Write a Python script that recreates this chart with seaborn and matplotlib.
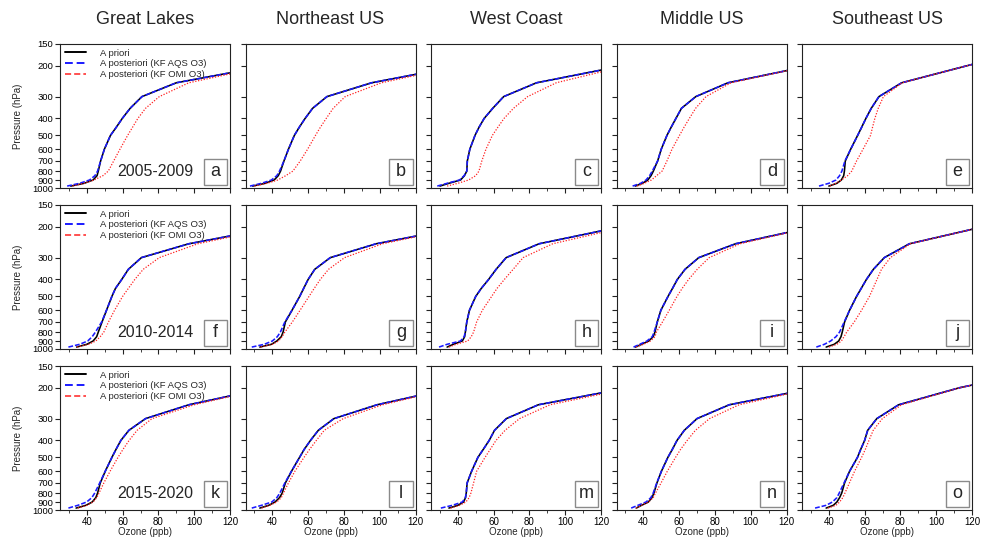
import matplotlib
matplotlib.use("Agg")
import numpy as np
import pandas as pd
import matplotlib.pyplot as plt
import seaborn as sns
from matplotlib.lines import Line2D
from matplotlib.patches import Rectangle
from matplotlib.ticker import FixedLocator, NullLocator, MultipleLocator, NullFormatter, FixedFormatter

# ---------------- data ----------------
regions = ["Great Lakes", "Northeast US", "West Coast", "Middle US", "Southeast US"]
periods = ["2005-2009", "2010-2014", "2015-2020"]
panel_letters = ["a", "b", "c", "d", "e", "f", "g", "h", "i", "j", "k", "l", "m", "n", "o"]
series_names = ["A priori", "A posteriori (KF AQS O3)", "A posteriori (KF OMI O3)"]
pressure_levels = [975, 940, 900, 850, 800, 700, 600, 500, 450, 400, 350, 300, 250, 200, 150]
pressure_ticks = [150, 200, 300, 400, 500, 600, 700, 800, 900, 1000]
ozone_ticks = [40, 60, 80, 100, 120]

# 2005-2009
apriori_a = [31, 38.5, 43.5, 45.7, 46.4, 47.7, 49.8, 53.2, 56.4, 59.8, 64.2, 70.8, 90, 141, 190]
aqs_a     = [29, 36, 41.5, 44.5, 46, 47.7, 49.8, 53.2, 56.4, 59.8, 64.2, 70.8, 90, 141, 190]
omi_a     = [32, 38.5, 44, 49, 52, 55, 58.5, 62.8, 65.5, 68.5, 72.8, 80.5, 97, 141, 190]
apriori_b = [29, 36, 41, 43.3, 44.6, 46.5, 49, 52.3, 55, 58.3, 62.5, 70.5, 95.5, 145, 195]
aqs_b     = [27.5, 34, 39.5, 42.5, 44, 46.5, 49, 52.3, 55, 58.3, 62.5, 70.5, 95.5, 145, 195]
omi_b     = [30, 37, 43, 47.5, 51.5, 55.6, 59.7, 64.1, 66.8, 70.1, 74, 80.7, 101, 145, 195]
apriori_c = [30, 35, 41.5, 43.7, 45, 45.3, 46.7, 49.6, 51.8, 54.7, 59.5, 65.6, 84, 132, 180]
aqs_c     = [28.5, 34, 41, 43.5, 45, 45.3, 46.7, 49.6, 51.8, 54.7, 59.5, 65.6, 84, 132, 180]
omi_c     = [34, 40, 46, 50, 51.8, 53.4, 55.7, 59.3, 62.3, 65.8, 71.1, 79, 95, 134, 180]
apriori_d = [35.5, 39.5, 42.5, 44.3, 45.6, 48, 50, 53.2, 55.5, 58.2, 61.3, 69.3, 87.3, 133, 180]
aqs_d     = [34, 38.5, 41.5, 43.5, 45, 48, 50, 53.2, 55.5, 58.2, 61.3, 69.3, 87.3, 133, 180]
omi_d     = [36.5, 40.5, 44.5, 47.4, 50.5, 53.2, 56, 60.2, 62.7, 65.7, 69.2, 75, 89, 133, 180]
apriori_e = [40, 44.5, 47, 48.3, 48.7, 49.2, 52.2, 56.1, 58.3, 60.7, 63.7, 68, 80.7, 117, 165]
aqs_e     = [34.5, 40, 44, 46, 47.3, 49, 52.2, 56.1, 58.3, 60.7, 63.7, 68, 80.7, 117, 165]
omi_e     = [40.5, 44, 47, 50.5, 52.8, 55.5, 59.1, 63.3, 64.4, 65.7, 67.6, 70.5, 81, 117, 165]
# 2010-2014
apriori_f = [34.3, 40, 43.5, 45.5, 46.4, 48.5, 51, 54, 56, 59.5, 63.2, 70.5, 97, 147, 195]
aqs_f     = [29.7, 36, 40.5, 43, 44.8, 48.3, 51, 54, 56, 59.5, 63.2, 70.5, 97, 147, 195]
omi_f     = [34.5, 41, 45, 47.5, 49.5, 52.1, 55.5, 60, 63.2, 66.8, 71.5, 80.5, 102, 147, 195]
apriori_g = [33, 39.5, 42.5, 45, 46, 47.3, 51, 55.3, 57.5, 60, 63.7, 72.4, 98, 147, 195]
aqs_g     = [28.5, 35.5, 40, 42.8, 44.5, 47, 51, 55.3, 57.5, 60, 63.7, 72.4, 98, 147, 195]
omi_g     = [33.5, 40, 43.5, 45.5, 47, 51.2, 55.5, 60.5, 63.4, 66.8, 71.4, 80.4, 101.5, 147, 195]
apriori_h = [34, 37.5, 42.5, 43.8, 44.2, 45, 46.5, 50, 53.1, 57.2, 61.4, 67, 85.4, 131, 180]
aqs_h     = [29.5, 34, 41.5, 43.5, 44.2, 45, 46.5, 50, 53.1, 57.2, 61.4, 67, 85.4, 131, 180]
omi_h     = [35, 39, 45.5, 47.5, 48.8, 50.5, 53.7, 58.9, 61.9, 66, 70.9, 76.5, 93, 134, 180]
apriori_i = [35.5, 39, 43, 45.5, 46.5, 47.8, 49.8, 53.8, 56.3, 59, 63.3, 71, 91.5, 135, 180]
aqs_i     = [34.5, 38, 42, 45, 46, 47.8, 49.8, 53.8, 56.3, 59, 63.3, 71, 91.5, 135, 180]
omi_i     = [36, 40, 44, 46.5, 47.3, 50.7, 54.5, 58.8, 61.7, 65.3, 70.1, 76.8, 94, 135, 180]
apriori_j = [38.5, 43, 45.5, 46.8, 47.5, 48.8, 51.6, 55.5, 58.1, 61, 64.9, 71, 85, 126, 175]
aqs_j     = [33, 37.5, 41, 44, 46, 48.6, 51.6, 55.5, 58.1, 61, 64.9, 71, 85, 126, 175]
omi_j     = [40, 44.5, 47, 48.5, 50, 54.2, 58.3, 62.7, 64.7, 66.9, 69.4, 74.4, 85.5, 126, 175]
# 2015-2020
apriori_k = [34, 39.5, 43, 45, 46, 47.5, 50.3, 54, 56.3, 59, 63.5, 72.8, 97, 141, 190]
aqs_k     = [29.7, 35, 39.9, 42.8, 44.4, 47.2, 50.3, 54, 56.3, 59, 63.5, 72.8, 97, 141, 190]
omi_k     = [35, 40, 43.5, 45.5, 46.8, 49.5, 53, 57.4, 60.2, 63.6, 68.1, 76.4, 100, 141, 190]
apriori_l = [33, 38, 41.5, 44, 45.5, 47.3, 50.7, 55.2, 57.8, 61.3, 65.7, 74.4, 98.5, 141, 190]
aqs_l     = [28.5, 34, 39.7, 42.5, 44.2, 47, 50.7, 55.2, 57.8, 61.3, 65.7, 74.4, 98.5, 141, 190]
omi_l     = [34, 38.5, 42.5, 45, 46.2, 49, 52.6, 57.7, 60.8, 64.6, 69, 79.6, 101.6, 141, 190]
apriori_m = [35, 40, 43.2, 44.3, 44.7, 45.2, 47.7, 51.2, 54.2, 57.5, 60.5, 67.1, 85, 135, 185]
aqs_m     = [30.5, 37, 42.5, 44.2, 44.7, 45.2, 47.7, 51.2, 54.2, 57.5, 60.5, 67.1, 85, 135, 185]
omi_m     = [36, 41, 44.5, 46.3, 47.3, 48.8, 50.5, 55.2, 58.1, 61.3, 66.4, 74.5, 91.5, 137, 185]
apriori_n = [36, 39, 42.8, 44.8, 45.9, 47.6, 50.1, 53.7, 56.2, 58.8, 62.9, 70, 88, 136, 185]
aqs_n     = [33.2, 37, 41.5, 44.2, 45.5, 47.5, 50.1, 53.7, 56.2, 58.8, 62.9, 70, 88, 136, 185]
omi_n     = [36, 39, 43, 45.5, 46.8, 49.9, 53.4, 58, 60.8, 64.5, 69.1, 77, 93.5, 136, 185]
apriori_o = [38.5, 42.5, 44.5, 46, 47.2, 48.8, 51.6, 56, 57.8, 60, 61.7, 66.8, 79, 112.8, 170]
aqs_o     = [32.3, 38.5, 42, 44.5, 45.8, 48.5, 51.6, 56, 57.8, 60, 61.7, 66.8, 79, 112.8, 170]
omi_o     = [39.5, 44, 46, 47.8, 49, 51.5, 54.4, 58.3, 60.4, 62.4, 64.8, 69.9, 80.6, 113, 170]

panel_series = [
    (apriori_a, aqs_a, omi_a), (apriori_b, aqs_b, omi_b), (apriori_c, aqs_c, omi_c),
    (apriori_d, aqs_d, omi_d), (apriori_e, aqs_e, omi_e),
    (apriori_f, aqs_f, omi_f), (apriori_g, aqs_g, omi_g), (apriori_h, aqs_h, omi_h),
    (apriori_i, aqs_i, omi_i), (apriori_j, aqs_j, omi_j),
    (apriori_k, aqs_k, omi_k), (apriori_l, aqs_l, omi_l), (apriori_m, aqs_m, omi_m),
    (apriori_n, aqs_n, omi_n), (apriori_o, aqs_o, omi_o),
]

# ---------------- style ----------------
sns.set_theme(style="ticks")
plt.rcParams["font.family"] = ["Liberation Sans", "DejaVu Sans"]
plt.rcParams["axes.edgecolor"] = "#222222"
plt.rcParams["axes.linewidth"] = 0.8

colors = {series_names[0]: "black", series_names[1]: "#1a1aff", series_names[2]: "#ff2020"}
dash_map = {series_names[0]: "", series_names[1]: (3, 1.2), series_names[2]: (1, 1.3)}
size_map = {series_names[0]: 1.15, series_names[1]: 1.15, series_names[2]: 0.9}

W, H = 981, 546
fig, axes = plt.subplots(3, 5, figsize=(W / 100, H / 100), dpi=100)
fig.subplots_adjust(left=60 / W, right=972 / W, top=1 - 44 / H, bottom=1 - 510 / H,
                    wspace=15.5 / 170, hspace=17 / 144)

for idx, ax in enumerate(axes.flat):
    r, c = divmod(idx, 5)
    rows = []
    for name, vals in zip(series_names, panel_series[idx]):
        for p, v in zip(pressure_levels, vals):
            rows.append({"ozone": v, "pressure": p, "series": name})
    df = pd.DataFrame(rows)
    sns.lineplot(data=df, x="ozone", y="pressure", hue="series", style="series", size="series",
                 hue_order=series_names, style_order=series_names, size_order=series_names,
                 palette=colors, dashes=dash_map, sizes=size_map,
                 sort=False, estimator=None, legend=False, ax=ax)
    ax.set_yscale("log")
    ax.set_ylim(1000, 150)
    ax.set_xlim(25, 120)
    ax.set_xlabel("")
    ax.set_ylabel("")
    ax.yaxis.set_major_locator(FixedLocator(pressure_ticks))
    ax.yaxis.set_minor_locator(NullLocator())
    ax.xaxis.set_major_locator(FixedLocator(ozone_ticks))
    ax.xaxis.set_minor_locator(MultipleLocator(10))
    ax.tick_params(axis="both", which="major", direction="out", length=3.5, width=0.8,
                   labelsize=7, pad=1.2, colors="#222222", labelcolor="black")
    ax.tick_params(axis="y", which="major", labelsize=6.8)
    ax.tick_params(axis="x", which="minor", direction="out", length=2, width=0.6, colors="#222222")
    ax.yaxis.set_minor_formatter(NullFormatter())
    if c == 0:
        ax.yaxis.set_major_formatter(FixedFormatter([str(t) for t in pressure_ticks]))
    else:
        ax.set_yticklabels([])
    if r < 2:
        ax.set_xticklabels([])
    else:
        ax.set_xticklabels([str(t) for t in ozone_ticks])
    for s in ax.spines.values():
        s.set_visible(True)
        s.set_color("#222222")
        s.set_linewidth(0.8)

    # panel letter box
    ax.add_patch(Rectangle((0.845, 0.022), 0.14, 0.18, transform=ax.transAxes,
                           facecolor="white", edgecolor="#8a8a8a", linewidth=1.0, zorder=5))
    ax.text(0.915, 0.112, panel_letters[idx], transform=ax.transAxes, ha="center", va="center",
            fontsize=13, zorder=6)
    if c == 0:
        ax.text(0.56, 0.116, periods[r], transform=ax.transAxes, ha="center", va="center",
                fontsize=11.5, zorder=6)
        handles = [Line2D([], [], color="black", lw=1.4),
                   Line2D([], [], color="#1a1aff", lw=1.4, dashes=(4, 2)),
                   Line2D([], [], color="#ff2020", lw=1.1, dashes=(4, 2))]
        ax.legend(handles, series_names, loc="upper left", frameon=False, fontsize=6.8,
                  handlelength=2.3, handletextpad=1.4, labelspacing=0.18,
                  borderaxespad=0.3, borderpad=0.2)

# column titles and axis labels
for c, name in enumerate(regions):
    pos = axes[0, c].get_position()
    fig.text((pos.x0 + pos.x1) / 2, 1 - 20 / H, name, ha="center", va="center", fontsize=13)
    pos3 = axes[2, c].get_position()
    fig.text((pos3.x0 + pos3.x1) / 2, 1 - 532 / H, "Ozone (ppb)", ha="center", va="center", fontsize=7)

for r in range(3):
    pos = axes[r, 0].get_position()
    fig.text(18 / W, (pos.y0 + pos.y1) / 2, "Pressure (hPa)", rotation=90,
             ha="center", va="center", fontsize=7)

fig.savefig("out.png", dpi=100)
